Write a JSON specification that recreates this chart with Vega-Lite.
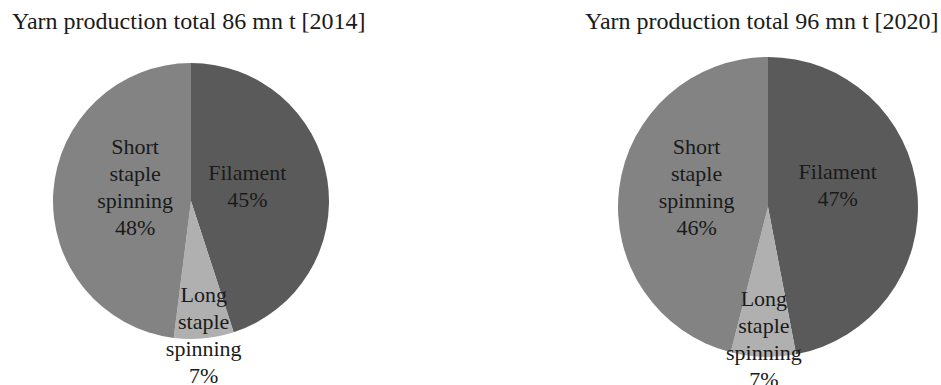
{
  "$schema": "https://vega.github.io/schema/vega-lite/v6.json",
  "padding": {"top": 10, "left": 0, "right": 0, "bottom": 0},
  "bounds": "flush",
  "spacing": 213,
  "background": "white",
  "config": {
    "view": {"stroke": null},
    "font": "Liberation Serif",
    "title": {"font": "Liberation Serif", "fontSize": 24, "fontWeight": "normal", "color": "#1a1a1a", "anchor": "start", "offset": 4},
    "text": {"font": "Liberation Serif", "fontSize": 22, "lineHeight": 27, "lineBreak": "\n", "color": "#1a1a1a", "baseline": "middle", "align": "center"}
  },
  "datasets": {
    "y2014": [
      {"segment": "Filament", "share": 45, "label": "Filament\n45%"},
      {"segment": "Long staple spinning", "share": 7, "label": "Long\nstaple\nspinning\n7%"},
      {"segment": "Short staple spinning", "share": 48, "label": "Short\nstaple\nspinning\n48%"}
    ],
    "y2020": [
      {"segment": "Filament", "share": 47, "label": "Filament\n47%"},
      {"segment": "Long staple spinning", "share": 7, "label": "Long\nstaple\nspinning\n7%"},
      {"segment": "Short staple spinning", "share": 46, "label": "Short\nstaple\nspinning\n46%"}
    ]
  },
  "hconcat": [
    {
      "width": 382,
      "height": 332,
      "title": {"text": "Yarn production total 86 mn t [2014]", "dx": 12, "dy": 3},
      "data": {"name": "y2014"},
      "encoding": {
        "theta": {"field": "share", "type": "quantitative", "stack": true},
        "order": {"field": "segment", "type": "nominal"}
      },
      "layer": [
        {
          "mark": {"type": "arc", "outerRadius": 138},
          "encoding": {
            "color": {"field": "segment", "type": "nominal", "legend": null,
              "scale": {"domain": ["Filament", "Long staple spinning", "Short staple spinning"], "range": ["#5a5a5a", "#b0b0b0", "#838383"]}}
          }
        },
        {
          "mark": {"type": "text", "radius": 57, "dy": -19},
          "encoding": {"text": {"condition": {"test": "datum.segment != 'Filament'", "value": ""}, "field": "label"}}
        },
        {
          "mark": {"type": "text", "radius": 56, "dy": -50},
          "encoding": {"text": {"condition": {"test": "datum.segment != 'Short staple spinning'", "value": ""}, "field": "label"}}
        },
        {
          "mark": {"type": "text", "radius": 135, "dy": -40},
          "encoding": {"text": {"condition": {"test": "datum.segment != 'Long staple spinning'", "value": ""}, "field": "label"}}
        }
      ]
    },
    {
      "width": 346,
      "height": 344,
      "title": {"text": "Yarn production total 96 mn t [2020]", "dx": -10, "dy": 3},
      "data": {"name": "y2020"},
      "encoding": {
        "theta": {"field": "share", "type": "quantitative", "stack": true},
        "order": {"field": "segment", "type": "nominal"}
      },
      "layer": [
        {
          "mark": {"type": "arc", "outerRadius": 150},
          "encoding": {
            "color": {"field": "segment", "type": "nominal", "legend": null,
              "scale": {"domain": ["Filament", "Long staple spinning", "Short staple spinning"], "range": ["#5a5a5a", "#b0b0b0", "#838383"]}}
          }
        },
        {
          "mark": {"type": "text", "radius": 70, "dy": -28},
          "encoding": {"text": {"condition": {"test": "datum.segment != 'Filament'", "value": ""}, "field": "label"}}
        },
        {
          "mark": {"type": "text", "radius": 72, "dy": -51},
          "encoding": {"text": {"condition": {"test": "datum.segment != 'Short staple spinning'", "value": ""}, "field": "label"}}
        },
        {
          "mark": {"type": "text", "radius": 132, "dy": -40},
          "encoding": {"text": {"condition": {"test": "datum.segment != 'Long staple spinning'", "value": ""}, "field": "label"}}
        }
      ]
    }
  ]
}
